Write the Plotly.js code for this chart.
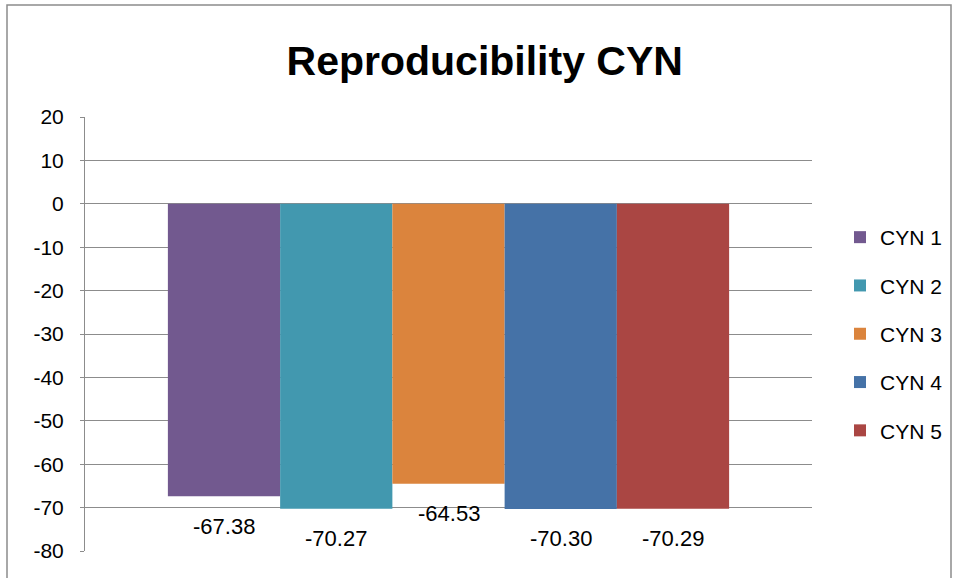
<!DOCTYPE html>
<html>
<head>
<meta charset="utf-8">
<script src="https://cdn.plot.ly/plotly-3.0.1.min.js"></script>
<style>html,body{margin:0;padding:0;background:#fff;}#chart{width:958px;height:578px;}</style>
</head>
<body>
<div id="chart"></div>
<script>
const seriesNames = ["CYN 1", "CYN 2", "CYN 3", "CYN 4", "CYN 5"];
const seriesValues = [-67.38, -70.27, -64.53, -70.30, -70.29];
const seriesColors = ["#72598F", "#4298AF", "#DB843D", "#4572A7", "#AA4643"];
const category = [""];
const yTicks = [20, 10, 0, -10, -20, -30, -40, -50, -60, -70, -80];

const FONT = "Liberation Sans, Arial, sans-serif";
const bargap = 0.228;
const n = seriesNames.length;
const barW = (1 - bargap) / n;

const traces = seriesNames.map((name, i) => ({
  type: "bar",
  name: name,
  x: category,
  y: [seriesValues[i]],
  marker: {color: seriesColors[i], line: {width: 0}},
  legendgroup: "g" + i,
  hoverinfo: "none"
}));

const annotations = seriesValues.map((v, i) => ({
  xref: "x", yref: "y",
  x: -(1 - bargap) / 2 + barW * (i + 0.5),
  y: v,
  yshift: -30,
  text: v.toFixed(2),
  showarrow: false,
  font: {family: FONT, size: 22, color: "#000"}
}));

const layout = {
  width: 958, height: 578,
  margin: {l: 85, r: 146, t: 117, b: 27, pad: 0, autoexpand: false},
  paper_bgcolor: "#fff", plot_bgcolor: "#fff",
  title: {text: "<b>Reproducibility CYN</b>", font: {family: FONT, size: 41, color: "#000"},
          x: 0.506, xanchor: "center", y: 0.895, yanchor: "middle"},
  barmode: "group", bargap: bargap, bargroupgap: 0,
  xaxis: {type: "category", showticklabels: false, showgrid: false, zeroline: false,
          showline: false, ticks: "", fixedrange: true},
  yaxis: {range: [-80, 20], tickvals: yTicks, ticktext: yTicks.map(String),
          showgrid: true, gridcolor: "#8C8C8C", gridwidth: 1,
          zeroline: true, zerolinecolor: "#8C8C8C", zerolinewidth: 1,
          showline: true, linecolor: "#8C8C8C", linewidth: 1,
          ticks: "outside", ticklen: 4, tickcolor: "#8C8C8C",
          tickfont: {family: FONT, size: 21, color: "#000"}, ticklabelstandoff: 12},
  legend: {xref: "container", yref: "container", x: 840 / 958, xanchor: "left",
           y: 1 - 217 / 578, yanchor: "top",
           font: {family: FONT, size: 21, color: "#000"},
           traceorder: "grouped", tracegroupgap: 18, itemwidth: 30},
  showlegend: true,
  annotations: annotations,
  shapes: [{type: "rect", xref: "paper", yref: "paper",
            x0: (7 - 85) / 727, x1: (951 - 85) / 727,
            y0: (551 - 600) / 434, y1: (551 - 5) / 434,
            line: {color: "#8C8C8C", width: 1.5}, fillcolor: "rgba(0,0,0,0)", layer: "below"}]
};

Plotly.newPlot("chart", traces, layout, {displayModeBar: false, staticPlot: true});
</script>
</body>
</html>
